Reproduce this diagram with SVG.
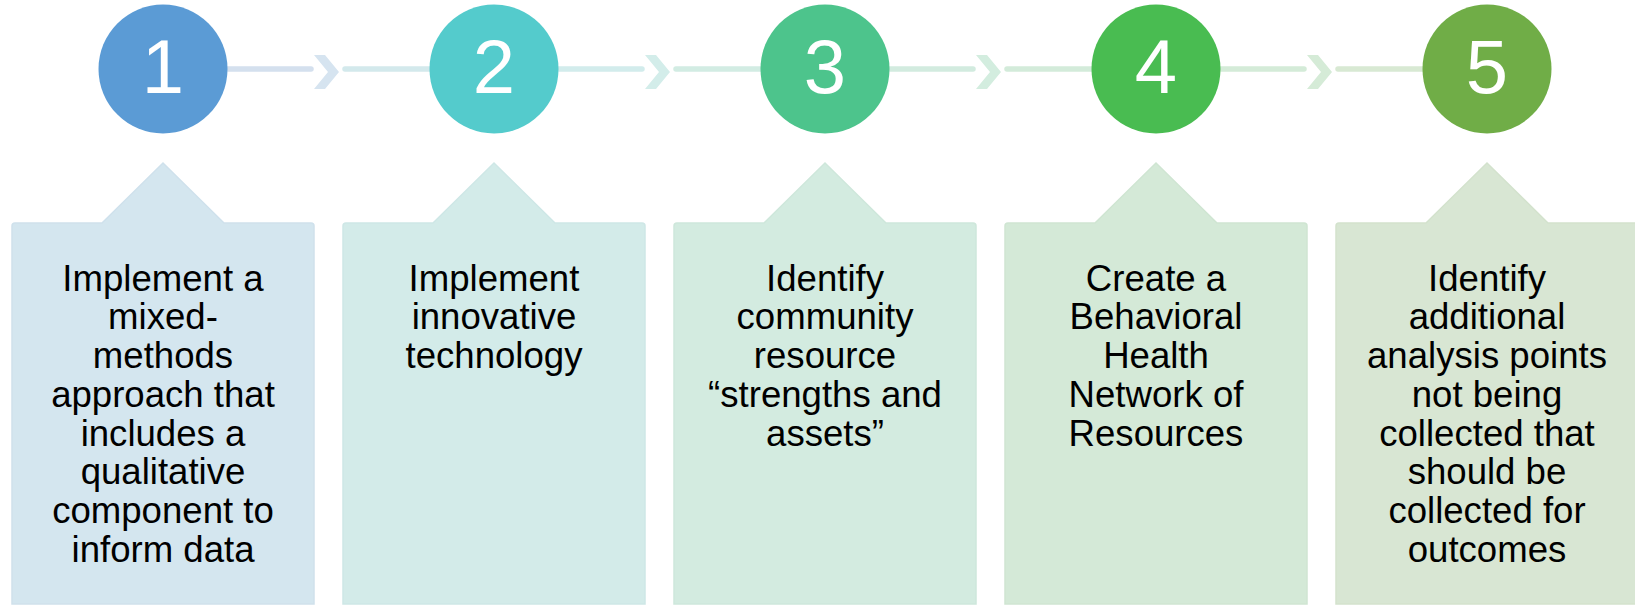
<svg xmlns="http://www.w3.org/2000/svg" width="1635" height="606" viewBox="0 0 1635 606">
<style>
.num{font-family:"Liberation Sans",Arial,sans-serif;font-size:76px;fill:#fff;text-anchor:middle}
.txt{font-family:"Liberation Sans",Arial,sans-serif;font-size:36.6px;fill:#000;text-anchor:middle}
.ln{stroke-width:5.5;stroke-linecap:round;fill:none}
</style>
<defs>
<path id="box" d="M-151,226 Q-151,223 -148,223 L-61,223 L0,163 L61,223 L148,223 Q151,223 151,226 L151,604 L-151,604 Z"/>
<path id="chev" d="M0,55 L11,55 L25,72 L11,89 L0,89 L14,72 Z"/>
</defs>
<rect width="1635" height="606" fill="#fff"/>
<g id="connectors">
  <line class="ln" x1="228" y1="69" x2="311" y2="69" stroke="#D4E0EE"/>
  <use href="#chev" x="314" fill="#D6E4F0"/>
  <line class="ln" x1="345" y1="69" x2="430" y2="69" stroke="#D3E9EC"/>
  <line class="ln" x1="559" y1="69" x2="642" y2="69" stroke="#D2ECEC"/>
  <use href="#chev" x="645" fill="#D3EDEA"/>
  <line class="ln" x1="676" y1="69" x2="761" y2="69" stroke="#D2ECE3"/>
  <line class="ln" x1="890" y1="69" x2="973" y2="69" stroke="#D2EBDF"/>
  <use href="#chev" x="976" fill="#D3EDDF"/>
  <line class="ln" x1="1007" y1="69" x2="1092" y2="69" stroke="#D3EBDA"/>
  <line class="ln" x1="1221" y1="69" x2="1304" y2="69" stroke="#D4EBD8"/>
  <use href="#chev" x="1307" fill="#D5EBD7"/>
  <line class="ln" x1="1338" y1="69" x2="1423" y2="69" stroke="#D8E9D3"/>
</g>
<g id="step1">
  <use href="#box" x="163" fill="#D4E6EF" stroke="#CFE1EC" stroke-width="1.5"/>
  <circle cx="163" cy="69" r="64.5" fill="#5B9BD5"/>
  <text class="num" x="163" y="93">1</text>
  <text class="txt" x="163" y="290.7"><tspan x="163">Implement a</tspan><tspan x="163" dy="38.7">mixed-</tspan><tspan x="163" dy="38.7">methods</tspan><tspan x="163" dy="38.7">approach that</tspan><tspan x="163" dy="38.7">includes a</tspan><tspan x="163" dy="38.7">qualitative</tspan><tspan x="163" dy="38.7">component to</tspan><tspan x="163" dy="38.7">inform data</tspan></text>
</g>
<g id="step2">
  <use href="#box" x="494" fill="#D3EBE9" stroke="#CEE7E6" stroke-width="1.5"/>
  <circle cx="494" cy="69" r="64.5" fill="#54CBCC"/>
  <text class="num" x="494" y="93">2</text>
  <text class="txt" x="494" y="290.7"><tspan x="494">Implement</tspan><tspan x="494" dy="38.7">innovative</tspan><tspan x="494" dy="38.7">technology</tspan></text>
</g>
<g id="step3">
  <use href="#box" x="825" fill="#D3EBE0" stroke="#CEE7DB" stroke-width="1.5"/>
  <circle cx="825" cy="69" r="64.5" fill="#4DC48C"/>
  <text class="num" x="825" y="93">3</text>
  <text class="txt" x="825" y="290.7"><tspan x="825">Identify</tspan><tspan x="825" dy="38.7">community</tspan><tspan x="825" dy="38.7">resource</tspan><tspan x="825" dy="38.7">“strengths and</tspan><tspan x="825" dy="38.7">assets”</tspan></text>
</g>
<g id="step4">
  <use href="#box" x="1156" fill="#D4E9D7" stroke="#CFE5D2" stroke-width="1.5"/>
  <circle cx="1156" cy="69" r="64.5" fill="#49BC51"/>
  <text class="num" x="1156" y="93">4</text>
  <text class="txt" x="1156" y="290.7"><tspan x="1156">Create a</tspan><tspan x="1156" dy="38.7">Behavioral</tspan><tspan x="1156" dy="38.7">Health</tspan><tspan x="1156" dy="38.7">Network of</tspan><tspan x="1156" dy="38.7">Resources</tspan></text>
</g>
<g id="step5">
  <use href="#box" x="1487" fill="#D8E6D3" stroke="#D3E2CD" stroke-width="1.5"/>
  <circle cx="1487" cy="69" r="64.5" fill="#70AD47"/>
  <text class="num" x="1487" y="93">5</text>
  <text class="txt" x="1487" y="290.7"><tspan x="1487">Identify</tspan><tspan x="1487" dy="38.7">additional</tspan><tspan x="1487" dy="38.7">analysis points</tspan><tspan x="1487" dy="38.7">not being</tspan><tspan x="1487" dy="38.7">collected that</tspan><tspan x="1487" dy="38.7">should be</tspan><tspan x="1487" dy="38.7">collected for</tspan><tspan x="1487" dy="38.7">outcomes</tspan></text>
</g>
</svg>
